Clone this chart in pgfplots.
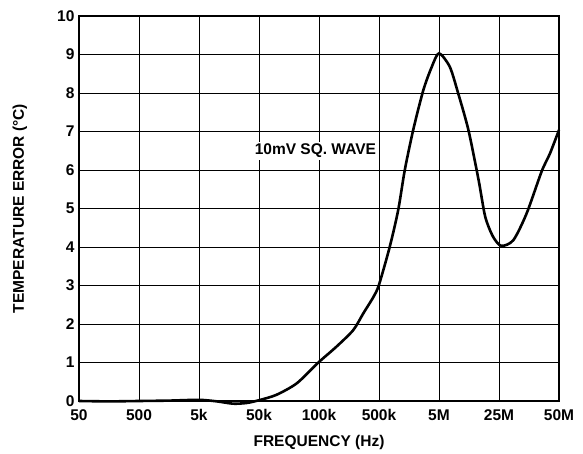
\documentclass[border=0pt]{standalone}
\usepackage{pgfplots}
\pgfplotsset{compat=1.18}
\usepackage{fontspec}
\setmainfont{Liberation Sans}
\begin{document}
\begin{tikzpicture}
\path[use as bounding box] (-79pt,-53pt) rectangle (504pt,401pt);
\begin{axis}[
  scale only axis,
  width=480pt, height=385pt,
  xmin=0, xmax=8, ymin=0, ymax=10,
  xtick={0,...,8},
  xticklabels={50,500,5k,50k,100k,500k,5M,25M,50M},
  ytick={0,...,10},
  grid=major,
  major grid style={black, line width=0.9pt},
  axis line style={black, line width=1.6pt},
  tick style={draw=none},
  /pgf/number format/assume math mode=true,
  ticklabel style={font=\fontsize{15.5}{17}\selectfont\bfseries},
  xticklabel style={yshift=-5pt},
  yticklabel style={xshift=-1pt},
  xlabel={FREQUENCY (Hz)},
  ylabel={TEMPERATURE ERROR (°C)},
  label style={font=\fontsize{15.5}{17}\selectfont\bfseries},
  xlabel style={at={(axis description cs:0.5,-0.109)}, anchor=center},
  ylabel style={at={(axis description cs:-0.123,0.5)}, anchor=center, rotate=0},
  clip=false,
]
\addplot[black, line width=2.6pt, smooth, tension=0.45] coordinates {
(0,0) (0.5,-0.01) (1,0.0) (1.5,0.01) (2,0.03) (2.3,-0.01) (2.57,-0.07) (2.8,-0.05) (3,0.02)
(3.29,0.16) (3.63,0.46) (3.99,1.0) (4.29,1.41) (4.57,1.84) (4.74,2.28) (4.91,2.71) (5.0,3.02)
(5.18,4.01) (5.32,4.96) (5.43,6.0) (5.57,7.04) (5.74,8.08) (5.88,8.68) (6,9.03)
(6.18,8.68) (6.32,7.99) (6.49,7.04) (6.66,5.74) (6.77,4.79) (6.9,4.27) (7.04,4.03)
(7.24,4.18) (7.46,4.87) (7.71,5.96) (7.85,6.43) (8,7.04)
};
\node[fill=white, inner sep=2pt, font=\fontsize{15.5}{17}\selectfont\bfseries] at (axis cs:3.94,6.5) {10mV SQ. WAVE};
\end{axis}
\end{tikzpicture}
\end{document}
